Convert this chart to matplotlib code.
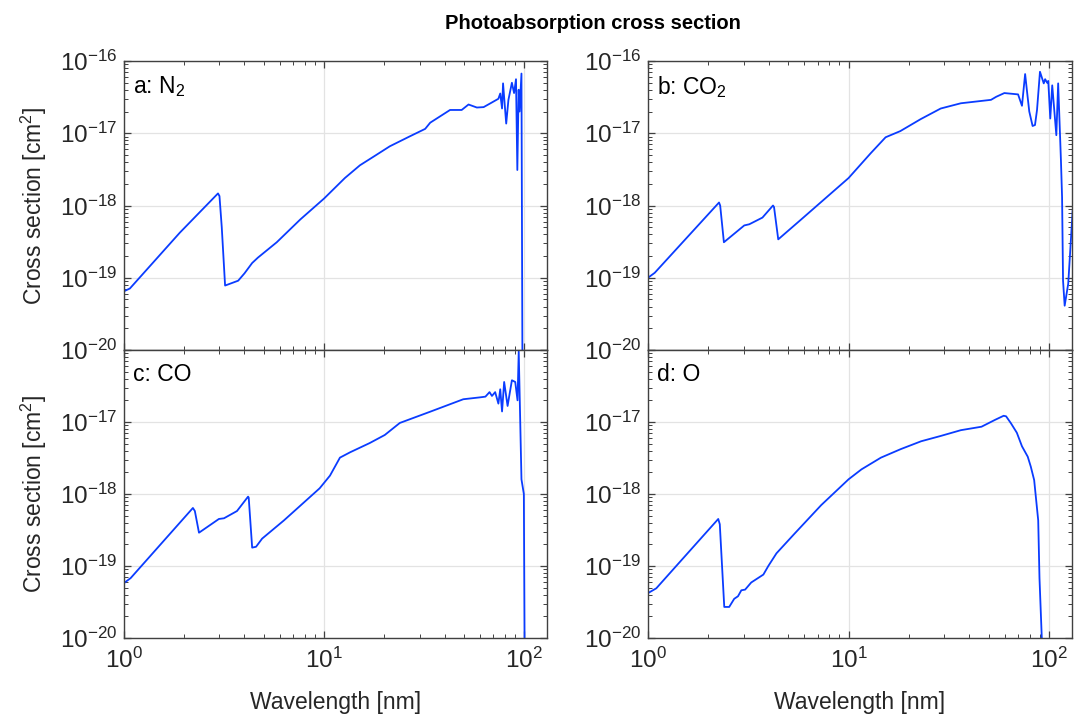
import numpy as np
import matplotlib
matplotlib.use("Agg")
import matplotlib.pyplot as plt
from matplotlib.ticker import LogLocator, NullFormatter

plt.rcParams["font.family"] = ["Liberation Sans", "DejaVu Sans"]
plt.rcParams["mathtext.fontset"] = "custom"
plt.rcParams["mathtext.rm"] = "Liberation Sans"
plt.rcParams["mathtext.it"] = "Liberation Sans:italic"
plt.rcParams["mathtext.bf"] = "Liberation Sans:bold"

# =========================
# Data
# =========================

wl_n2 = [1.0, 1.07, 1.9, 2.95, 3.0, 3.08, 3.2, 3.72, 4.0, 4.37, 4.67, 5.8, 7.6,
         10.0, 12.7, 15.1, 18.0, 21.3, 26.9, 32.0, 33.9, 42.6, 48.7, 52.7, 58.0,
         62.7, 69.0, 74.3, 75.9, 77.5, 78.4, 81.3, 83.4, 86.8, 89.0, 91.0, 92.4,
         93.8, 94.8, 96.9, 98.2]
xs_n2 = [6.5e-20, 7.1e-20, 4.2e-19, 1.47e-18, 1.35e-18, 5e-19, 7.8e-20, 9.1e-20,
         1.15e-19, 1.6e-19, 1.9e-19, 3.1e-19, 6.4e-19, 1.25e-18, 2.4e-18, 3.6e-18,
         4.9e-18, 6.6e-18, 9.1e-18, 1.15e-17, 1.4e-17, 2.1e-17, 2.1e-17, 2.5e-17,
         2.27e-17, 2.3e-17, 2.67e-17, 3.0e-17, 3.55e-17, 2.2e-17, 4.9e-17, 1.36e-17,
         2.9e-17, 5e-17, 3.6e-17, 5.6e-17, 3.1e-18, 4e-17, 2e-17, 6.7e-17, 1e-21]

wl_co2 = [1.0, 1.08, 2.26, 2.29, 2.39, 3.02, 3.2, 3.72, 4.2, 4.25, 4.46, 5.8,
          10.0, 12.9, 15.3, 18.1, 22.9, 28.8, 36.3, 51.3, 54.5, 59.8, 70.0, 73.2,
          75.9, 77.6, 79.6, 82.7, 85.0, 87.0, 90.0, 94.0, 95.5, 97.7, 99.0, 101.3,
          103.6, 108.6, 110.9, 114.5, 116.0, 117.3, 119.5, 124.5, 131.0, 136.0]
xs_co2 = [1.0e-19, 1.17e-19, 1.1e-18, 1.0e-18, 3.1e-19, 5.3e-19, 5.5e-19, 6.8e-19,
          1.0e-18, 9.5e-19, 3.4e-19, 6.4e-19, 2.4e-18, 5.3e-18, 8.8e-18, 1.07e-17,
          1.57e-17, 2.2e-17, 2.6e-17, 2.9e-17, 3.2e-17, 3.6e-17, 3.45e-17, 2.4e-17,
          6.6e-17, 3.75e-17, 2.0e-17, 1.26e-17, 1.3e-17, 2.1e-17, 7.1e-17, 4.9e-17,
          5.6e-17, 5.0e-17, 5.3e-17, 1.6e-17, 4.6e-17, 9.4e-18, 4.9e-17, 4.2e-18,
          1.3e-18, 9.1e-20, 4.1e-20, 8.3e-20, 8.5e-19, 1.4e-18]

wl_co = [1.0, 1.08, 2.21, 2.26, 2.37, 2.98, 3.16, 3.67, 4.17, 4.2, 4.37, 4.57,
         4.9, 6.3, 9.5, 10.7, 12.0, 13.5, 16.9, 20.1, 23.9, 33.9, 49.6, 60.2, 64.0,
         67.1, 69.0, 71.6, 74.3, 75.9, 77.5, 79.4, 82.6, 86.8, 90.2, 92.6, 93.9,
         96.9, 99.6, 100.8]
xs_co = [5.8e-20, 6.8e-20, 6.4e-19, 5.8e-19, 2.9e-19, 4.5e-19, 4.6e-19, 5.8e-19,
         9.2e-19, 8.9e-19, 1.8e-19, 1.85e-19, 2.4e-19, 4.3e-19, 1.2e-18, 1.8e-18,
         3.2e-18, 3.8e-18, 5.1e-18, 6.6e-18, 9.7e-18, 1.39e-17, 2.07e-17, 2.2e-17,
         2.25e-17, 2.6e-17, 2.3e-17, 2.6e-17, 1.8e-17, 2.85e-17, 1.4e-17, 3.6e-17,
         1.67e-17, 3.8e-17, 3.6e-17, 2.0e-17, 9.5e-17, 1.6e-18, 1.0e-18, 1e-21]

wl_o = [1.0, 1.1, 2.24, 2.28, 2.4, 2.54, 2.69, 2.81, 2.92, 3.05, 3.27, 3.76,
        3.98, 4.37, 5.37, 7.3, 10.0, 11.6, 14.5, 18.2, 23.0, 28.8, 36.3, 46.0,
        53.7, 59.3, 61.0, 64.5, 69.0, 73.2, 78.2, 81.0, 84.2, 88.2, 89.5, 91.9,
        93.0]
xs_o = [4.2e-20, 4.9e-20, 4.5e-19, 3.8e-19, 2.7e-20, 2.7e-20, 3.5e-20, 3.8e-20,
        4.6e-20, 4.7e-20, 5.9e-20, 7.6e-20, 1.0e-19, 1.5e-19, 2.8e-19, 7e-19,
        1.6e-18, 2.2e-18, 3.2e-18, 4.2e-18, 5.4e-18, 6.4e-18, 7.7e-18, 8.6e-18,
        1.07e-17, 1.22e-17, 1.2e-17, 9.6e-18, 7.1e-18, 4.6e-18, 3.3e-18, 2.4e-18,
        1.56e-18, 4.3e-19, 6.8e-20, 1e-20, 1e-21]

panel_labels = ["a: N$_2$", "b: CO$_2$", "c: CO", "d: O"]
panel_data = [(wl_n2, xs_n2), (wl_co2, xs_co2), (wl_co, xs_co), (wl_o, xs_o)]

y_ticks = [1e-20, 1e-19, 1e-18, 1e-17, 1e-16]
y_ticklabels = ["$10^{-20}$", "$10^{-19}$", "$10^{-18}$", "$10^{-17}$", "$10^{-16}$"]
x_ticks = [1, 10, 100]
x_ticklabels = ["$10^{0}$", "$10^{1}$", "$10^{2}$"]

# =========================
# Figure
# =========================

W, H = 1090, 719
fig = plt.figure(figsize=(W / 100, H / 100), dpi=100)

# axes boxes in pixels: (left, top, right, bottom)
boxes = [(124, 61, 547, 350), (648, 61, 1072, 350),
         (124, 350, 547, 638), (648, 350, 1072, 638)]

line_color = "#0a3cff"
axis_color = "#404040"
text_color = "#262626"

for i, ((l, t, r, b), (wl, xs), lab) in enumerate(zip(boxes, panel_data, panel_labels)):
    ax = fig.add_axes([l / W, 1 - b / H, (r - l) / W, (b - t) / H])
    ax.plot(wl, xs, color=line_color, linewidth=1.3)
    ax.set_xscale("log")
    ax.set_yscale("log")
    ax.set_xlim(1, 130)
    ax.set_ylim(1e-20, 1e-16)

    # bottom row: 10^-16 label is skipped, the panel above shows 10^-20 there
    ylabs = y_ticklabels if i < 2 else y_ticklabels[:-1] + [""]
    ax.set_yticks(y_ticks, ylabs)
    ax.set_xticks(x_ticks, x_ticklabels)
    ax.yaxis.set_minor_locator(LogLocator(base=10, subs=np.arange(2, 10), numticks=10))
    ax.xaxis.set_minor_locator(LogLocator(base=10, subs=np.arange(2, 10), numticks=10))
    ax.yaxis.set_minor_formatter(NullFormatter())
    ax.xaxis.set_minor_formatter(NullFormatter())

    ax.grid(True, which="major", color="#e3e3e3", linewidth=0.9)
    ax.set_axisbelow(True)
    ax.tick_params(which="both", direction="in", top=True, right=True,
                   color=axis_color, labelsize=17.5, labelcolor=text_color)
    ax.tick_params(which="major", length=5, width=0.9)
    ax.tick_params(which="minor", length=3, width=0.7)
    ax.tick_params(axis="x", which="major", pad=7)
    ax.tick_params(axis="y", which="major", pad=5)
    for s in ax.spines.values():
        s.set_color(axis_color)
        s.set_linewidth(1.0)

    ax.text(0.022, 0.955, lab, transform=ax.transAxes, fontsize=16.5,
            va="top", ha="left", color="black")

    if i < 2:
        ax.tick_params(labelbottom=False)
    else:
        ax.set_xlabel("Wavelength [nm]", fontsize=16.5, color=text_color, labelpad=13)

    if i % 2 == 0:
        ax.set_ylabel("Cross section [cm$^2$]", fontsize=16.5, color=text_color, labelpad=8)

fig.text(0.544, 0.968, "Photoabsorption cross section", ha="center", va="center",
         fontsize=14.5, fontweight="bold")

fig.savefig("out.png", dpi=100)
